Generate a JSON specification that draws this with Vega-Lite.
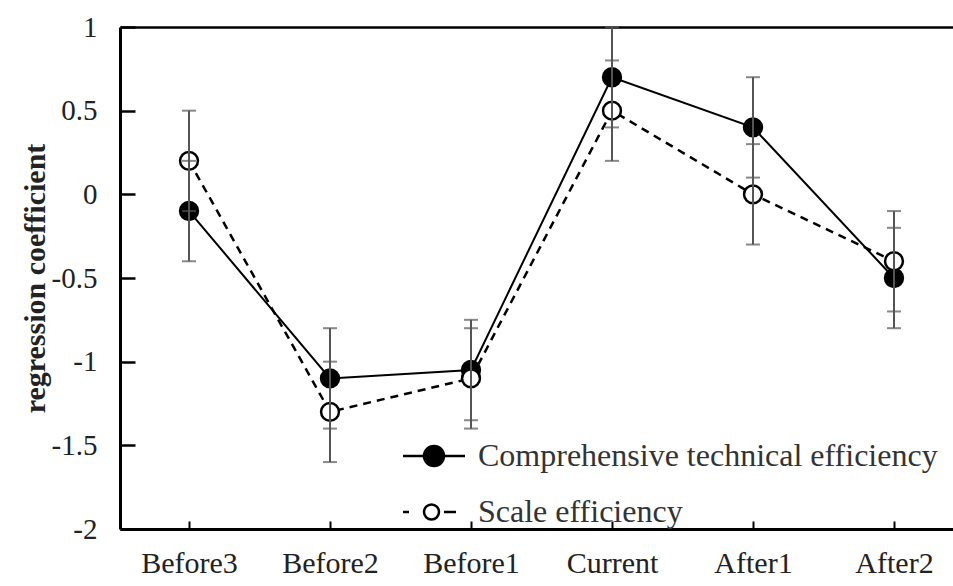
{
  "$schema": "https://vega.github.io/schema/vega-lite/v6.json",
  "width": 833,
  "height": 502,
  "autosize": "none",
  "padding": {"left": 120, "top": 27, "right": 0, "bottom": 57},
  "background": "white",
  "config": {
    "view": {"stroke": null},
    "font": "Liberation Serif",
    "axis": {"labelFont": "Liberation Serif", "titleFont": "Liberation Serif", "domainColor": "black", "tickColor": "black", "labelColor": "#222", "titleColor": "#222", "grid": false}
  },
  "data": {
    "values": [
      {"series": "Comprehensive technical efficiency", "period": "Before3", "value": -0.1, "lo": -0.4, "hi": 0.2},
      {"series": "Comprehensive technical efficiency", "period": "Before2", "value": -1.1, "lo": -1.4, "hi": -0.8},
      {"series": "Comprehensive technical efficiency", "period": "Before1", "value": -1.05, "lo": -1.35, "hi": -0.75},
      {"series": "Comprehensive technical efficiency", "period": "Current", "value": 0.7, "lo": 0.4, "hi": 1.0},
      {"series": "Comprehensive technical efficiency", "period": "After1", "value": 0.4, "lo": 0.1, "hi": 0.7},
      {"series": "Comprehensive technical efficiency", "period": "After2", "value": -0.5, "lo": -0.8, "hi": -0.2},
      {"series": "Scale efficiency", "period": "Before3", "value": 0.2, "lo": -0.1, "hi": 0.5},
      {"series": "Scale efficiency", "period": "Before2", "value": -1.3, "lo": -1.6, "hi": -1.0},
      {"series": "Scale efficiency", "period": "Before1", "value": -1.1, "lo": -1.4, "hi": -0.8},
      {"series": "Scale efficiency", "period": "Current", "value": 0.5, "lo": 0.2, "hi": 0.8},
      {"series": "Scale efficiency", "period": "After1", "value": 0.0, "lo": -0.3, "hi": 0.3},
      {"series": "Scale efficiency", "period": "After2", "value": -0.4, "lo": -0.7, "hi": -0.1}
    ]
  },
  "encoding": {
    "x": {
      "field": "period", "type": "nominal",
      "sort": ["Before3", "Before2", "Before1", "Current", "After1", "After2"],
      "scale": {"type": "point", "padding": 0.454, "align": 0.539},
      "axis": null
    },
    "y": {
      "type": "quantitative",
      "scale": {"domain": [-2, 1], "nice": false, "zero": false}
    }
  },
  "layer": [
    {
      "transform": [{"filter": "datum.series === 'Comprehensive technical efficiency'"}],
      "mark": {"type": "line", "color": "black", "strokeWidth": 2},
      "encoding": {
        "x": {
          "field": "period", "type": "nominal",
          "sort": ["Before3", "Before2", "Before1", "Current", "After1", "After2"],
          "axis": {"orient": "top", "labels": false, "ticks": false, "domain": true, "domainWidth": 2.5, "title": null}
        },
        "y": {
          "field": "value", "type": "quantitative",
          "axis": {
            "values": [-2, -1.5, -1, -0.5, 0, 0.5, 1],
            "labelExpr": "toString(datum.value)",
            "labelFontSize": 29,
            "labelPadding": 38,
            "tickSize": -15,
            "tickWidth": 2.5,
            "domainWidth": 3,
            "labelFlush": false,
            "labelOverlap": false,
            "title": "regression coefficient",
            "titleFontSize": 30,
            "titleFontWeight": "bold",
            "titlePadding": 1
          }
        }
      }
    },
    {
      "transform": [{"filter": "datum.series === 'Scale efficiency'"}],
      "mark": {"type": "line", "color": "black", "strokeWidth": 2.5, "strokeDash": [8, 6]},
      "encoding": {
        "y": {"field": "value", "type": "quantitative"}
      }
    },
    {
      "mark": {"type": "circle", "size": 320, "stroke": "black", "strokeWidth": 2.5, "opacity": 1},
      "encoding": {
        "y": {"field": "value", "type": "quantitative"},
        "fill": {
          "field": "series", "type": "nominal",
          "scale": {"domain": ["Comprehensive technical efficiency", "Scale efficiency"], "range": ["black", "white"]},
          "legend": {
            "title": null,
            "orient": "none",
            "legendX": 298,
            "legendY": 413,
            "labelFont": "Liberation Serif",
            "labelFontSize": 32,
            "labelColor": "#333",
            "labelOffset": 28,
            "rowPadding": 24,
            "symbolSize": 400,
            "symbolStrokeColor": "black",
            "symbolStrokeWidth": 2.5,
            "symbolOpacity": 1,
            "labelLimit": 600,
            "encode": {
              "symbols": {
                "update": {
                  "shape": {"signal": "datum.value === 'Scale efficiency' ? 'M-3.1,0H-2.5M1.0,0H2.2M0.5,0A0.75,0.75,0,1,1,-1,0A0.75,0.75,0,1,1,0.5,0Z' : 'M-3.1,0H3.1M1,0A1,1,0,1,1,-1,0A1,1,0,1,1,1,0Z'"}
                }
              }
            }
          }
        }
      }
    },
    {
      "mark": {"type": "rule", "color": "#555", "strokeWidth": 2},
      "encoding": {
        "x": {
          "field": "period", "type": "nominal",
          "sort": ["Before3", "Before2", "Before1", "Current", "After1", "After2"],
          "axis": {"orient": "bottom", "title": null, "labelFontSize": 30, "labelAngle": 0, "tickSize": -8, "tickWidth": 2, "labelPadding": 27, "domainWidth": 3}
        },
        "y": {"field": "lo", "type": "quantitative"},
        "y2": {"field": "hi"}
      }
    },
    {
      "mark": {"type": "tick", "color": "#555", "size": 14, "thickness": 2},
      "encoding": {"y": {"field": "lo", "type": "quantitative"}}
    },
    {
      "mark": {"type": "tick", "color": "#555", "size": 14, "thickness": 2},
      "encoding": {"y": {"field": "hi", "type": "quantitative"}}
    }
  ],
  "resolve": {"axis": {"x": "independent"}}
}
